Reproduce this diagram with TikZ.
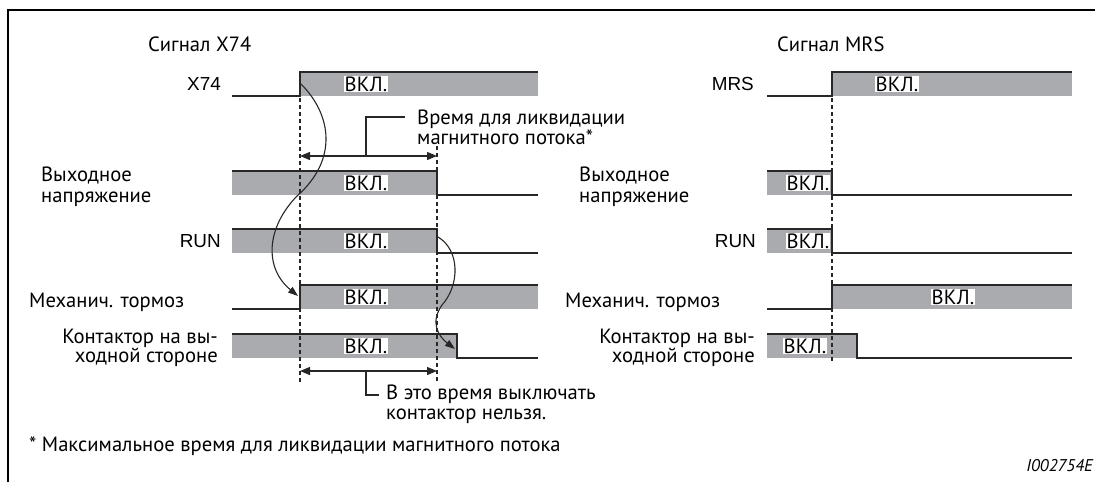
\documentclass[tikz,border=0pt]{standalone}
\usepackage{fontspec}
\setmainfont{PT Sans}
\newfontfamily\arialf{Liberation Sans}
\usetikzlibrary{arrows.meta}
\definecolor{sgray}{RGB}{169,171,174}
\definecolor{sline}{RGB}{40,38,38}
\newlength\tmpw
\newlength\tmpa
\begin{document}
\settowidth\tmpw{\fontsize{10}{12}\selectfont Время для ликвидации}%
\settowidth\tmpa{\arialf\fontsize{10}{12}\selectfont MRS}%
\pgfmathsetmacro\fsz{10*208/\tmpw}%
\pgfmathsetmacro\asz{10*42/\tmpa}%
\begin{tikzpicture}[x=1pt,y=-1pt,
  sig/.style={line width=1.3pt, draw=sline, line join=miter},
  dsh/.style={line width=1.1pt, draw=sline, dash pattern=on 4pt off 3pt},
  von/.style={fill=white, inner sep=0.6pt, font=\fontsize{\fsz}{20}\selectfont},
  lab/.style={inner sep=0pt, font=\fontsize{\fsz}{20}\selectfont, align=left},
  labw/.style={inner sep=0pt, font=\fontsize{\fsz}{21}\selectfont, align=left},
  labr/.style={inner sep=0pt, font=\fontsize{\fsz}{19}\selectfont, align=right},
  alab/.style={inner sep=0pt, font=\arialf\fontsize{\asz}{20}\selectfont},
  dim/.style={line width=1.2pt, draw=sline, {Triangle[length=10pt,width=8pt]}-{Triangle[length=10pt,width=8pt]}},
  lead/.style={line width=1.1pt, draw=sline},
  carr/.style={line width=1.1pt, draw=sline, -{Triangle[length=10pt,width=7pt]}}]
\useasboundingbox (0,0) rectangle (1095,482);
% frame
\draw[line width=2pt, black] (7.5,482) -- (7.5,10) -- (1095,10);

% titles
\node[lab, anchor=west] (t1) at (148,44) {Сигнал X74};
\node[lab, anchor=west] (t2) at (777,44) {Сигнал MRS};

% ---------- left diagram ----------
\fill[sgray] (300,72) rectangle (538,96);
\fill[sgray] (232,171) rectangle (437,195);
\fill[sgray] (232,229) rectangle (437,253);
\fill[sgray] (300,285) rectangle (538,309);
\fill[sgray] (232,334) rectangle (457,358);
\draw[sig] (232,96) -- (300,96) -- (300,72) -- (538,72);
\draw[sig] (232,171) -- (437,171) -- (437,195) -- (538,195);
\draw[sig] (232,229) -- (437,229) -- (437,253) -- (538,253);
\draw[sig] (232,309) -- (300,309) -- (300,285) -- (538,285);
\draw[sig] (232,334) -- (457,334) -- (457,358) -- (538,358);
\draw[dsh] (300,98) -- (300,383);
\draw[dsh] (437,146) -- (437,383);
\node[alab, anchor=east] (lx74) at (221,84) {X74};
\node[labw, anchor=west] (lout) at (41,187) {Выходное\\напряжение};
\node[alab, anchor=east] (lrun) at (221,241) {RUN};
\node[lab, anchor=west] (lbr) at (29,302) {Механич. тормоз};
\node[labr, anchor=east] (lcon) at (218,348) {Контактор на вы-\\ходной стороне};
\node[von] (v1) at (366,84) {ВКЛ.};
\node[von] (v2) at (366,183) {ВКЛ.};
\node[von] (v3) at (366,241) {ВКЛ.};
\node[von] (v4) at (366,297) {ВКЛ.};
\node[von] (v5) at (366,346) {ВКЛ.};
% dimension 1
\coordinate (d1l) at (300,156);
\coordinate (d1r) at (437,156);
\coordinate (d1m) at (366,156);
\coordinate (d1k) at (366,117);
\coordinate (d1e) at (405,117);
\draw[dim] (d1l) -- (d1r);
\draw[lead] (d1m) -- (d1k) -- (d1e);
\node[lab, anchor=west] (n1) at (417,127) {Время для ликвидации\\магнитного потока*};
% dimension 2
\coordinate (d2l) at (300,371);
\coordinate (d2r) at (437,371);
\coordinate (d2m) at (366,371);
\coordinate (d2k) at (366,395);
\coordinate (d2e) at (379,395);
\draw[dim] (d2l) -- (d2r);
\draw[lead] (d2m) -- (d2k) -- (d2e);
\node[lab, anchor=west] (n2) at (386,404) {В это время выключать\\контактор нельзя.};
% curved arrows
\coordinate (c1s) at (301,84);
\coordinate (c1m) at (297,196);
\coordinate (c1e) at (298,296);
\draw[carr] (c1s) .. controls (332,115) and (338,160) .. (c1m) .. controls (266,228) and (264,268) .. (c1e);
\coordinate (c2s) at (438,237);
\coordinate (c2m) at (442,305);
\coordinate (c2e) at (455,349);
\draw[carr] (c2s) .. controls (460,250) and (460,285) .. (c2m) .. controls (430,322) and (438,336) .. (c2e);

% ---------- right diagram ----------
\fill[sgray] (832,72) rectangle (1072,96);
\fill[sgray] (767,171) rectangle (832,195);
\fill[sgray] (767,229) rectangle (832,253);
\fill[sgray] (832,285) rectangle (1072,309);
\fill[sgray] (767,334) rectangle (857,358);
\draw[sig] (767,96) -- (832,96) -- (832,72) -- (1072,72);
\draw[sig] (767,171) -- (832,171) -- (832,195) -- (1072,195);
\draw[sig] (767,229) -- (832,229) -- (832,253) -- (1072,253);
\draw[sig] (767,309) -- (832,309) -- (832,285) -- (1072,285);
\draw[sig] (767,334) -- (857,334) -- (857,358) -- (1072,358);
\draw[dsh] (832,98) -- (832,362);
\node[alab, anchor=east] (rmrs) at (754,84) {MRS};
\node[labw, anchor=west] (rout) at (579,187) {Выходное\\напряжение};
\node[alab, anchor=east] (rrun) at (756,241) {RUN};
\node[lab, anchor=west] (rbr) at (565,302) {Механич. тормоз};
\node[labr, anchor=east] (rcon) at (755,348) {Контактор на вы-\\ходной стороне};
\node[von] (w1) at (897,84) {ВКЛ.};
\node[von] (w2) at (808,183) {ВКЛ.};
\node[von] (w3) at (808,241) {ВКЛ.};
\node[von] (w4) at (953,297) {ВКЛ.};
\node[von] (w5) at (805,346) {ВКЛ.};

% footnote and id
\node[lab, anchor=west] (foot) at (29,446) {* Максимальное время для ликвидации магнитного потока};
\node[inner sep=0pt, anchor=east, font=\itshape\fontsize{17}{17}\selectfont] (id) at (1093,466) {I002754E};
\end{tikzpicture}
\end{document}
